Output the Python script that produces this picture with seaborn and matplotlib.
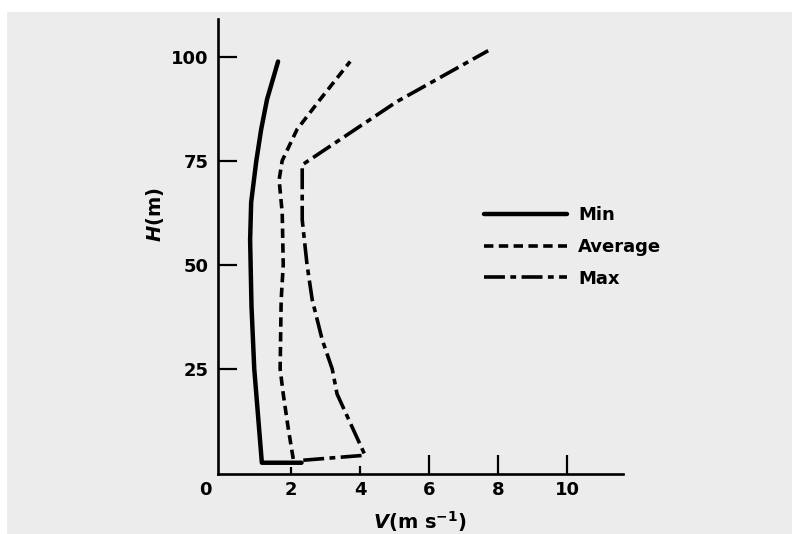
import matplotlib
matplotlib.use("Agg")
import matplotlib.pyplot as plt
import matplotlib.transforms as mtransforms
from matplotlib.patches import Rectangle
import seaborn as sns

# wind speed profiles (V in m/s, H in m)
min_v = [2.3, 1.15, 0.93, 0.85, 0.81, 0.84, 0.99, 1.13, 1.30, 1.62]
min_h = [2.5, 2.5, 25, 40, 56, 65, 75, 82.5, 89.7, 98.8]
avg_v = [2.06, 1.91, 1.77, 1.68, 1.71, 1.77, 1.74, 1.65, 1.74, 2.17, 2.84, 3.71]
avg_h = [3.4, 11, 19, 25, 41.6, 50, 62.5, 70.4, 75, 82.5, 89.7, 98.8]
max_v = [2.35, 4.14, 3.77, 3.33, 3.19, 2.9, 2.61, 2.46, 2.32, 2.32, 5.07, 7.71]
max_h = [3.1, 4.3, 11, 19, 25, 32, 41.6, 50, 60.8, 74, 89.2, 101.4]

x_ticks = [0, 2, 4, 6, 8, 10]
y_ticks = [25, 50, 75, 100]
series_names = ["Min", "Average", "Max"]

sns.set_style("ticks")
plt.rcParams["font.family"] = ["DejaVu Sans"]
plt.rcParams["font.weight"] = "bold"
for key in ["text.color", "axes.labelcolor", "xtick.color", "ytick.color", "axes.edgecolor"]:
    plt.rcParams[key] = "black"

fig = plt.figure(figsize=(7.92, 5.34), dpi=100, facecolor="white")
# scanned page background: grey with a white margin top and left
fig.patches.append(Rectangle((7 / 792, 0), 1, 1 - 12 / 534, transform=fig.transFigure,
                             facecolor="#ececec", edgecolor="none", zorder=-10))
ax = fig.add_axes([0.2753, 0.1124, 0.5114, 0.852])
ax.set_facecolor("none")

lw = 2.6
sns.lineplot(x=min_v, y=min_h, sort=False, estimator=None, color="black", lw=lw + 0.6,
             linestyle="-", label=series_names[0], ax=ax)
sns.lineplot(x=avg_v, y=avg_h, sort=False, estimator=None, color="black", lw=lw,
             linestyle=(0, (2.6, 1.5)), label=series_names[1], ax=ax)
sns.lineplot(x=max_v, y=max_h, sort=False, estimator=None, color="black", lw=lw,
             linestyle=(0, (5.8, 1.5, 1.6, 1.5)), label=series_names[2], ax=ax)

ax.set_xlim(-0.12, 11.62)
ax.set_ylim(-0.2, 109)
ax.set_xticks(x_ticks)
ax.set_yticks(y_ticks)
ax.set_xticklabels([str(t) for t in x_ticks])
ax.set_yticklabels([str(t) for t in y_ticks])
ax.tick_params(axis="both", direction="in", length=14, width=1.6, labelsize=13, pad=5)
ax.tick_params(axis="y", pad=7)
ax.xaxis.get_major_ticks()[0].tick1line.set_visible(False)
ax.xaxis.get_major_ticks()[1].tick1line.set_markersize(5)
ax.xaxis.get_major_ticks()[2].tick1line.set_markersize(6)

# the "0" label sits left of the corner
zero_lbl = ax.get_xticklabels()[0]
zero_lbl.set_transform(zero_lbl.get_transform()
                       + mtransforms.ScaledTranslation(-0.17, 0, fig.dpi_scale_trans))

sns.despine(ax=ax)
for s in ["left", "bottom"]:
    ax.spines[s].set_linewidth(1.9)
    ax.spines[s].set_color("black")

ax.set_xlabel("")
ax.set_ylabel("")
fig.text(420 / 792, 1 - 522 / 534, r"$V$(m s$^{-1}$)", ha="center", va="center",
         fontsize=14, fontweight="bold")
fig.text(155 / 792, 1 - 215 / 534, r"$H$(m)", ha="center", va="center", rotation=90,
         fontsize=14, fontweight="bold")

leg = ax.legend(loc="center left", bbox_to_anchor=(468 / 792, 1 - 247 / 534),
                bbox_transform=fig.transFigure, frameon=False, handlelength=4.6,
                handletextpad=0.6, labelspacing=0.75, fontsize=13)

plt.savefig("out.png", dpi=100, facecolor=fig.get_facecolor())
